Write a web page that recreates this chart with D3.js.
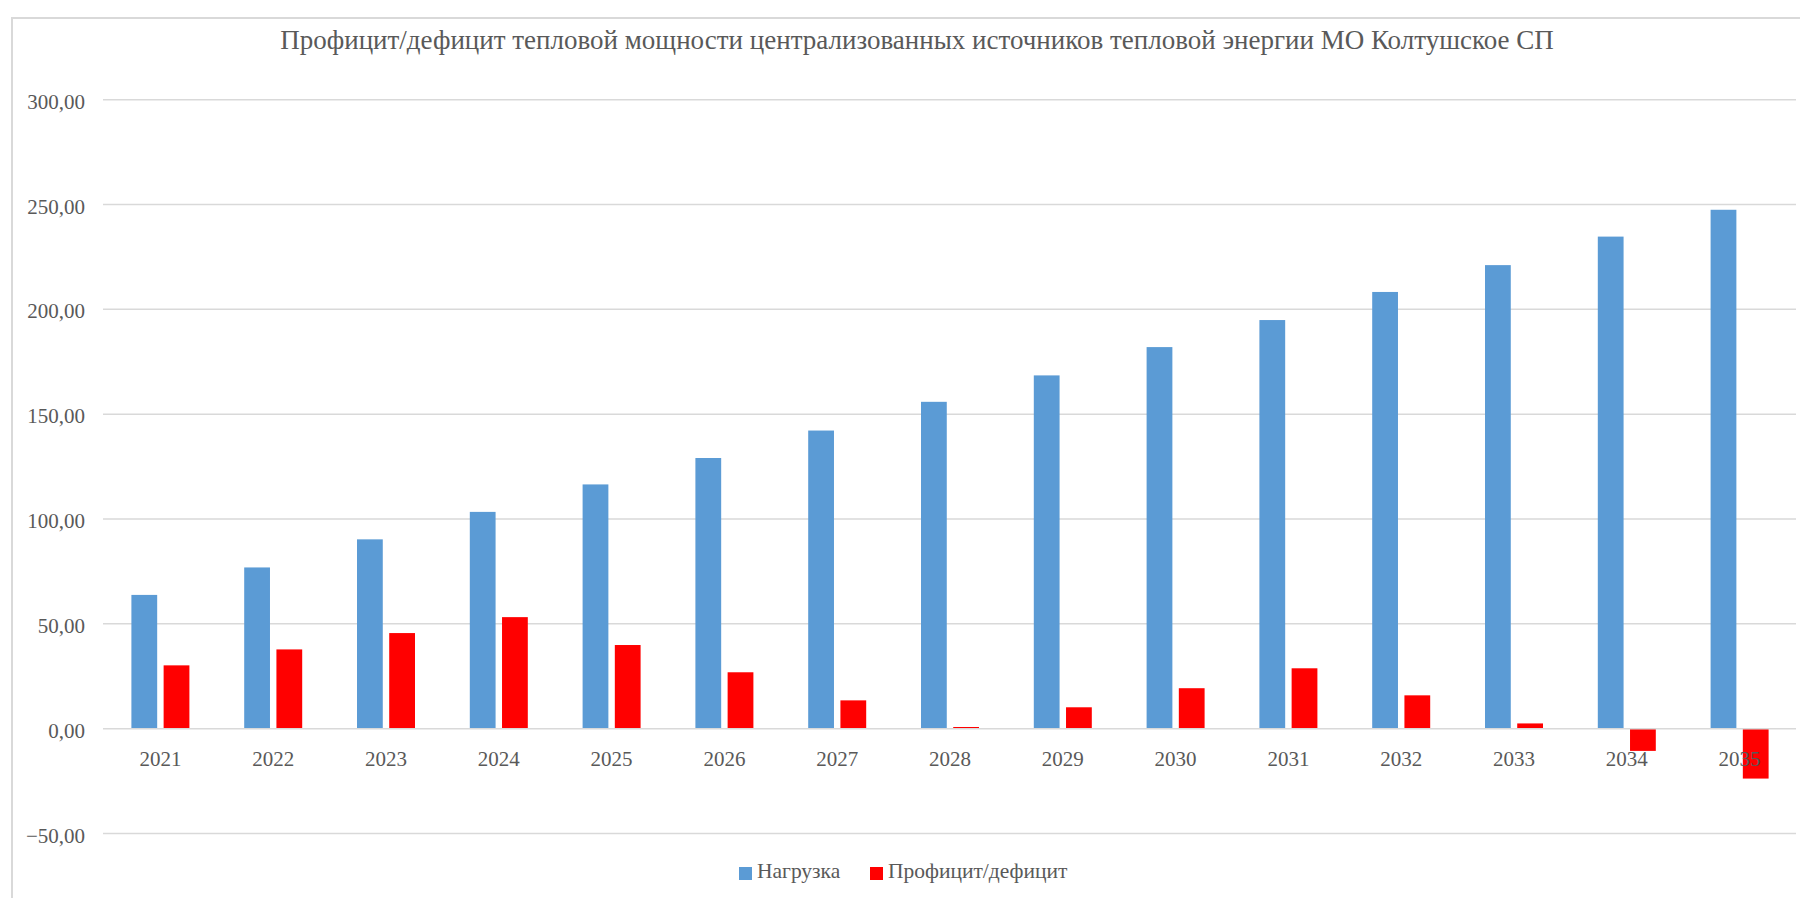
<!DOCTYPE html>
<html><head><meta charset="utf-8">
<script src="https://cdn.jsdelivr.net/npm/d3@7"></script>
<style>html,body{margin:0;padding:0;background:#fff;}svg{display:block;}</style>
</head><body>
<svg id="c" width="1800" height="898"></svg>
<script>
const title = "Профицит/дефицит тепловой мощности централизованных источников тепловой энергии МО Колтушское СП";
const years = ["2021","2022","2023","2024","2025","2026","2027","2028","2029","2030","2031","2032","2033","2034","2035"];
const load = [63.8, 76.9, 90.3, 103.4, 116.5, 129.1, 142.2, 155.9, 168.5, 182.0, 194.9, 208.3, 221.1, 234.7, 247.5];
const balance = [30.2, 37.8, 45.6, 53.2, 39.9, 26.9, 13.5, 0.8, 10.2, 19.3, 28.8, 15.9, 2.5, -10.6, -23.8];
const seriesNames = ["Нагрузка", "Профицит/дефицит"];
const colors = ["#5B9BD5", "#FF0000"];
const yTicks = [-50, 0, 50, 100, 150, 200, 250, 300];

const svg = d3.select("#c");
const font = "'Liberation Serif','Times New Roman',serif";
const txt = "#595959";

// outer frame
svg.append("rect").attr("x",12).attr("y",18).attr("width",1850).attr("height",950)
  .attr("fill","none").attr("stroke","#d9d9d9").attr("stroke-width",2);

const x0 = d3.scaleBand().domain(years).range([104, 1796]).paddingInner(0).paddingOuter(0);
const y = d3.scaleLinear().domain([-50, 300]).range([833.5, 99.7]);
const x1 = d3.scaleBand().domain([0,1]).range([-29, 29]).paddingInner(0.2);

// gridlines
svg.append("g").selectAll("line").data(yTicks.filter(v=>v!==0)).join("line")
  .attr("x1",103).attr("x2",1796).attr("y1",d=>y(d)).attr("y2",d=>y(d))
  .attr("stroke","#d9d9d9").attr("stroke-width",1.5);

// y labels
svg.append("g").selectAll("text").data(yTicks).join("text")
  .attr("x",85).attr("y",d=>y(d)+9).attr("text-anchor","end")
  .attr("font-family",font).attr("font-size",21).attr("fill",txt)
  .text(d=>d3.format(".2f")(d).replace(".",","));

// bars
const data = years.map((yr,i)=>({yr, vals:[load[i], balance[i]]}));
const g = svg.append("g");
data.forEach(d=>{
  const cx = x0(d.yr) + x0.bandwidth()/2;
  d.vals.forEach((v,k)=>{
    g.append("rect")
      .attr("x", cx + x1(k)).attr("width", x1.bandwidth())
      .attr("y", y(Math.max(0,v))).attr("height", Math.abs(y(v)-y(0)))
      .attr("fill", colors[k]);
  });
});

// zero axis line on top
svg.append("line").attr("x1",103).attr("x2",1796).attr("y1",y(0)).attr("y2",y(0))
  .attr("stroke","#d9d9d9").attr("stroke-width",1.5);

// x labels
svg.append("g").selectAll("text").data(years).join("text")
  .attr("x",d=>x0(d)+x0.bandwidth()/2).attr("y",766).attr("text-anchor","middle")
  .attr("font-family",font).attr("font-size",21).attr("fill",txt).text(d=>d);

// title
svg.append("text").attr("x",917).attr("y",49).attr("text-anchor","middle")
  .attr("font-family",font).attr("font-size",27).attr("fill",txt).text(title);

// legend
const leg = svg.append("g");
const legX = [739, 870];
seriesNames.forEach((n,k)=>{
  leg.append("rect").attr("x",legX[k]).attr("y",867).attr("width",13).attr("height",13).attr("fill",colors[k]);
  leg.append("text").attr("x",legX[k]+18).attr("y",878).attr("font-family",font).attr("font-size",21.5)
    .attr("fill",txt).text(n);
});
</script>
</body></html>
